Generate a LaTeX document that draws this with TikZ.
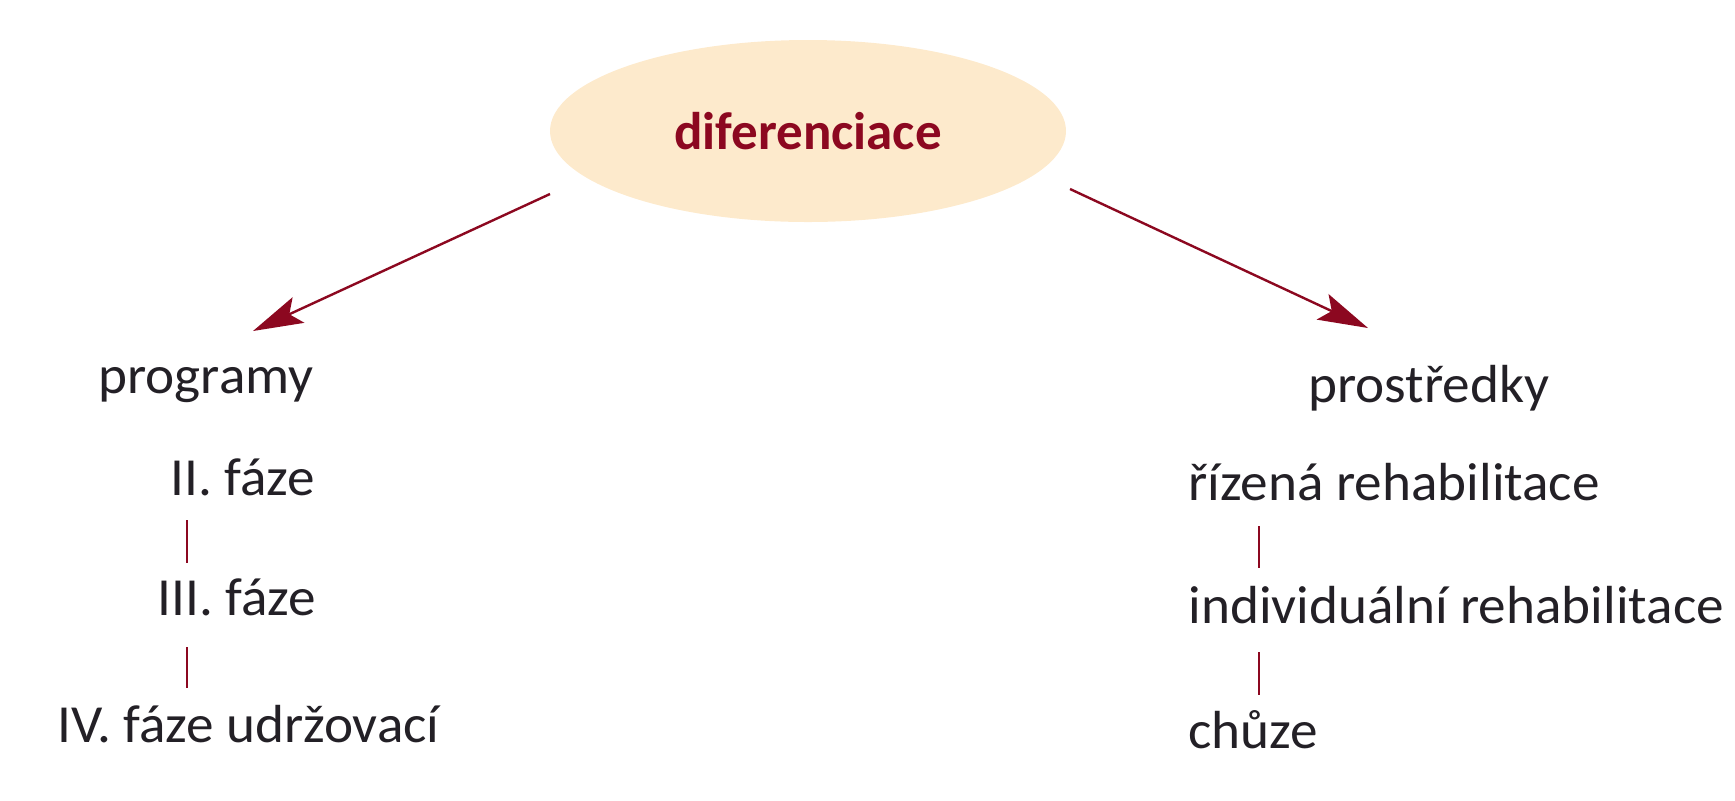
\documentclass[tikz,border=0pt]{standalone}
\usepackage{fontspec}
\setmainfont{Carlito}
\newfontfamily\lblfont[FakeStretch=1.03]{Carlito}
\usetikzlibrary{shapes.geometric,arrows.meta}
\definecolor{dred}{RGB}{140,8,32}
\definecolor{peach}{RGB}{253,234,204}
\definecolor{txt}{RGB}{35,32,38}
\tikzset{
  lbl/.style={anchor=base west,inner sep=0pt,text=txt,font=\lblfont\fontsize{26.8}{30}\selectfont},
  arr/.style={draw=dred,line width=1.2pt,-{Stealth[length=25pt,width=14pt,inset=5pt]}},
  conn/.style={draw=dred,line width=1.3pt},
  root/.style={ellipse,fill=peach,minimum width=258pt,minimum height=91pt,inner sep=0pt,
    text=dred,font=\fontsize{26.5}{30}\selectfont\bfseries}
}
\begin{document}
\begin{tikzpicture}[x=0.5pt,y=-0.5pt]
\useasboundingbox (0,0) rectangle (1735,800);
\node[root] (d) at (808,131) {diferenciace};
% left column
\node[lbl] (prog) at (98,393) {programy};
\node[lbl] (f2) at (170,495) {II. fáze};
\node[lbl] (f3) at (157,615) {III. fáze};
\node[lbl] (f4) at (57,742) {IV. fáze udržovací};
% right column
\node[lbl] (pros) at (1308,402) {prostředky};
\node[lbl] (r1) at (1188,500) {řízená rehabilitace};
\node[lbl] (r2) at (1188,623) {individuální rehabilitace};
\node[lbl] (r3) at (1188,748) {chůze};
% arrow ends
\coordinate (dl) at (550,194);
\coordinate (dr) at (1070,189);
\coordinate (tl) at (253,331);
\coordinate (tr) at (1368,328);
\draw[arr] (dl) -- (tl);
\draw[arr] (dr) -- (tr);
% vertical connectors
\coordinate (a1) at (187,520); \coordinate (a2) at (187,563);
\coordinate (b1) at (187,647); \coordinate (b2) at (187,688);
\coordinate (c1) at (1259,526); \coordinate (c2) at (1259,568);
\coordinate (e1) at (1259,652); \coordinate (e2) at (1259,695);
\draw[conn] (a1) -- (a2);
\draw[conn] (b1) -- (b2);
\draw[conn] (c1) -- (c2);
\draw[conn] (e1) -- (e2);
\end{tikzpicture}
\end{document}
